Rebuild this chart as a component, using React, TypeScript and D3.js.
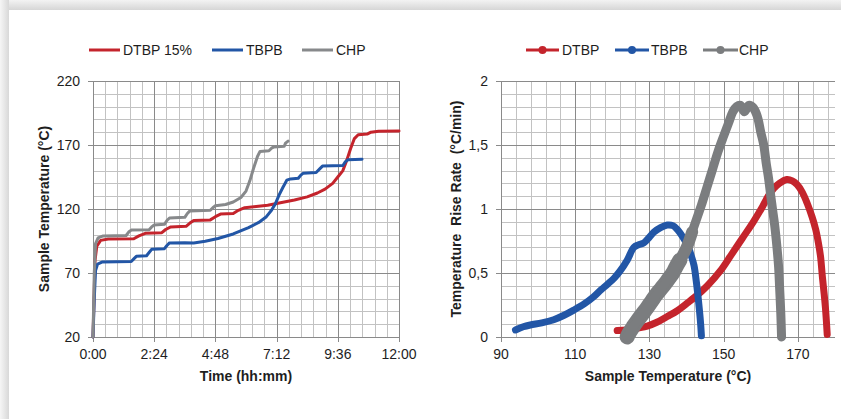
import React from "react";
import * as d3 from "d3";

// ---------- Left chart data: time (hours) vs sample temperature (°C)
const timeTicks = [0, 2.4, 4.8, 7.2, 9.6, 12];
const tempTicks = [20, 70, 120, 170, 220];

const dtbpTemp: [number, number][] = [
  [0, 20], [0.08, 80], [0.15, 91], [0.3, 95.5], [0.6, 96.5], [1.6, 96.8], [1.8, 99], [2.05, 101],
  [2.7, 101.5], [2.85, 104], [3.05, 106], [3.65, 106.5], [3.8, 109], [3.95, 111], [4.6, 111.5],
  [4.8, 114], [5.0, 116], [5.5, 116.5], [5.7, 119], [5.95, 121], [6.4, 122], [6.85, 123],
  [7.4, 125], [7.9, 127], [8.4, 129.5], [8.8, 132.5], [9.1, 135.5], [9.4, 140], [9.6, 145],
  [9.8, 150], [9.95, 158], [10.1, 167], [10.25, 175], [10.4, 178], [10.75, 178.5], [10.9, 180],
  [11.2, 180.8], [12, 181],
];
const tbpbTemp: [number, number][] = [
  [0, 20], [0.05, 50], [0.1, 72], [0.18, 77], [0.35, 78.5], [1.5, 79], [1.6, 81], [1.7, 83],
  [2.1, 83.5], [2.2, 86], [2.3, 88.5], [2.8, 89], [2.9, 91.5], [3.0, 93.5], [3.6, 93.7],
  [3.95, 93.5], [4.4, 94.8], [4.9, 97], [5.5, 100.5], [6.1, 105.5], [6.5, 109.5], [6.8, 114],
  [7.0, 119], [7.15, 124], [7.3, 131], [7.45, 137], [7.6, 142.5], [7.75, 143.5], [8.05, 144],
  [8.15, 146.5], [8.25, 148], [8.75, 148.5], [8.9, 151.5], [9.0, 153.5], [9.8, 154], [9.9, 157],
  [10.0, 158.5], [10.55, 158.8],
];
const chpTemp: [number, number][] = [
  [0, 20], [0.05, 70], [0.1, 93], [0.2, 97.5], [0.4, 99], [1.3, 99.3], [1.4, 102], [1.5, 103.5],
  [2.2, 103.8], [2.3, 106], [2.4, 107.5], [2.8, 108], [2.9, 111], [3.0, 113], [3.6, 113.5],
  [3.7, 116.5], [3.8, 118.5], [4.6, 119], [4.7, 121], [4.8, 122.5], [5.2, 123.5], [5.5, 125.5],
  [5.8, 129], [6.0, 134], [6.15, 142], [6.3, 152], [6.45, 161], [6.55, 165], [6.9, 165.5],
  [7.0, 167.5], [7.1, 168.5], [7.5, 169], [7.55, 171.5], [7.65, 173],
];

// ---------- Right chart data: sample temperature (°C) vs rise rate (°C/min)
const sampleTempTicks = [90, 110, 130, 150, 170];
const rateTicks = [0, 0.5, 1, 1.5, 2];
const rateTickLabels = ["0", "0,5", "1", "1,5", "2"];

const dtbpRate: [number, number][] = [
  [121.3, 0.05], [124, 0.055], [127, 0.07], [129.4, 0.085], [132, 0.115], [134.8, 0.16],
  [137.5, 0.205], [140.2, 0.265], [143, 0.33], [145.6, 0.4], [149.2, 0.52], [152, 0.64],
  [155, 0.77], [158, 0.9], [160.5, 1.02], [162, 1.1], [163.5, 1.16], [165, 1.2], [167, 1.23],
  [168.5, 1.22], [169.8, 1.19], [171.2, 1.13], [172.5, 1.045], [173.8, 0.94], [174.8, 0.84],
  [175.5, 0.74], [176.1, 0.63], [176.6, 0.47], [177.1, 0.33], [177.5, 0.2], [177.9, 0.02],
];
const tbpbRate: [number, number][] = [
  [93.9, 0.055], [96, 0.08], [97.9, 0.094], [101, 0.11], [104.2, 0.135], [107, 0.17],
  [109.6, 0.21], [112.5, 0.26], [115, 0.315], [117, 0.37], [118.6, 0.41], [120.5, 0.46],
  [122.2, 0.52], [124, 0.6], [125.8, 0.7], [127, 0.72], [128.5, 0.735], [130, 0.78],
  [131.2, 0.82], [133, 0.855], [134.8, 0.875], [136.3, 0.87], [137.5, 0.84], [139, 0.78],
  [140.2, 0.72], [141.2, 0.64], [142, 0.56], [142.6, 0.44], [143, 0.34], [143.5, 0.2],
  [143.8, 0.1], [144, 0.01],
];
const chpRate: [number, number][] = [
  [124, 0.0], [124.5, 0.03], [125.6, 0.08], [126.8, 0.13], [128.1, 0.18], [129.4, 0.23],
  [130.6, 0.28], [131.8, 0.33], [133.2, 0.38], [134.3, 0.42], [135.3, 0.46], [136.3, 0.5],
  [137.2, 0.55], [138.2, 0.6], [139.2, 0.65], [140.2, 0.71], [141.5, 0.82], [142.8, 0.93],
  [144, 1.03], [145.5, 1.17], [147, 1.31], [148.5, 1.45], [150, 1.57], [151.3, 1.67],
  [152.5, 1.76], [153.5, 1.8], [154.5, 1.81], [155.6, 1.76], [156.8, 1.81], [158, 1.79],
  [159.1, 1.72], [160, 1.6], [160.8, 1.5], [161.5, 1.35], [162.1, 1.24], [162.7, 1.1],
  [163.2, 0.99], [163.8, 0.86], [164.3, 0.72], [164.8, 0.55], [165.1, 0.37], [165.4, 0.18],
  [165.6, 0.0],
];
// number of leading CHP points in the dense, wide band near the onset
const chpDenseCount = 14;

const RED = "#c4242c";
const BLUE = "#2256a6";
const GRAY_L = "#87898b";
const GRAY_R = "#7b7d7f";
const MAJOR = "#8a8a8a";
const MINOR = "#c2c2c2";
const FONT = "'Liberation Sans', Arial, sans-serif";

function fmtTime(h: number) {
  const hh = Math.floor(h + 1e-6);
  const mm = Math.round((h - hh) * 60);
  return `${hh}:${mm < 10 ? "0" + mm : mm}`;
}

function Grid({ x, y, xMajor, xStep, yMajor, yStep }: any) {
  const [x0, x1] = x.domain();
  const [y0, y1] = y.domain();
  const xs = d3.range(x0, x1 + 1e-9, xStep);
  const ys = d3.range(y0, y1 + 1e-9, yStep);
  const isMajor = (v: number, base: number, m: number) => {
    const r = (v - base) / m;
    return Math.abs(r - Math.round(r)) < 1e-6;
  };
  const [px0, px1] = x.range();
  const [py0, py1] = y.range();
  const minors: any[] = [];
  const majors: any[] = [];
  xs.forEach((v: number, i: number) => {
    const px = Math.round(x(v)) + 0.5;
    const el = <line key={"x" + i} x1={px} x2={px} y1={py1} y2={py0} />;
    (isMajor(v, x0, xMajor) ? majors : minors).push(el);
  });
  ys.forEach((v: number, i: number) => {
    const py = Math.round(y(v)) + 0.5;
    const el = <line key={"y" + i} x1={px0} x2={px1} y1={py} y2={py} />;
    (isMajor(v, y0, yMajor) ? majors : minors).push(el);
  });
  return (
    <g>
      <g stroke={MINOR} strokeWidth={1}>{minors}</g>
      <g stroke={MAJOR} strokeWidth={1}>{majors}</g>
    </g>
  );
}

export default function App() {
  const xL = d3.scaleLinear().domain([0, 12]).range([93, 399]);
  const yL = d3.scaleLinear().domain([20, 220]).range([337, 81]);
  const xR = d3.scaleLinear().domain([90, 180]).range([501, 835]);
  const yR = d3.scaleLinear().domain([0, 2]).range([337, 81]);

  const lineL = d3.line<[number, number]>().x((d) => xL(d[0])).y((d) => yL(d[1]));
  const lineR = d3.line<[number, number]>().x((d) => xR(d[0])).y((d) => yR(d[1]));
  const lineRs = d3
    .line<[number, number]>()
    .x((d) => xR(d[0]))
    .y((d) => yR(d[1]))
    .curve(d3.curveCatmullRom);

  return (
    <svg
      width={841}
      height={419}
      style={{ position: "absolute", left: 0, top: 0, display: "block" }}
      fontFamily={FONT}
    >
      <defs>
        <linearGradient id="shTop" x1="0" y1="0" x2="0" y2="1">
          <stop offset="0" stopColor="#f3f3f3" />
          <stop offset="1" stopColor="#d6d6d6" />
        </linearGradient>
        <linearGradient id="shLeft" x1="0" y1="0" x2="1" y2="0">
          <stop offset="0" stopColor="#f6f6f6" />
          <stop offset="1" stopColor="#d8d8d8" />
        </linearGradient>
      </defs>
      <rect x={0} y={0} width={841} height={419} fill="#ffffff" />
      <rect x={0} y={0} width={841} height={10} fill="url(#shTop)" />
      <rect x={0} y={0} width={9} height={419} fill="url(#shLeft)" />
      <rect x={9} y={10} width={832} height={409} fill="#ffffff" />

      {/* ---------------- Left chart ---------------- */}
      <Grid x={xL} y={yL} xMajor={2.4} xStep={0.48} yMajor={50} yStep={10} />
      <g stroke={MAJOR} strokeWidth={1}>
        {timeTicks.map((t, i) => (
          <line key={i} x1={Math.round(xL(t)) + 0.5} x2={Math.round(xL(t)) + 0.5} y1={337} y2={342} />
        ))}
        {tempTicks.map((t, i) => (
          <line key={i} x1={88} x2={93} y1={Math.round(yL(t)) + 0.5} y2={Math.round(yL(t)) + 0.5} />
        ))}
      </g>
      <g fill="none" strokeWidth={3} strokeLinejoin="round" strokeLinecap="round">
        <path d={lineL(dtbpTemp) || ""} stroke={RED} />
        <path d={lineL(tbpbTemp) || ""} stroke={BLUE} />
        <path d={lineL(chpTemp) || ""} stroke={GRAY_L} />
      </g>
      <g fontSize={14} fill="#1e1e1e">
        {tempTicks.map((t, i) => (
          <text key={i} x={80} y={yL(t)} dy="0.35em" textAnchor="end">{t}</text>
        ))}
        {timeTicks.map((t, i) => (
          <text key={i} x={xL(t)} y={359} textAnchor="middle">{fmtTime(t)}</text>
        ))}
      </g>
      <text x={246} y={381} textAnchor="middle" fontSize={14} fontWeight="bold" fill="#1e1e1e">Time (hh:mm)</text>
      <text
        transform={`translate(49,209) rotate(-90)`}
        textAnchor="middle"
        fontSize={14}
        fontWeight="bold"
        fill="#1e1e1e"
      >
        Sample Temperature (°C)
      </text>
      <g fontSize={14} fill="#1e1e1e">
        <line x1={89} x2={120} y1={50} y2={50} stroke={RED} strokeWidth={3} />
        <text x={123} y={55}>DTBP 15%</text>
        <line x1={212} x2={243} y1={50} y2={50} stroke={BLUE} strokeWidth={3} />
        <text x={246} y={55}>TBPB</text>
        <line x1={302} x2={333} y1={50} y2={50} stroke={GRAY_L} strokeWidth={3} />
        <text x={336} y={55}>CHP</text>
      </g>

      {/* ---------------- Right chart ---------------- */}
      <Grid x={xR} y={yR} xMajor={20} xStep={4} yMajor={0.5} yStep={0.1} />
      <g stroke={MAJOR} strokeWidth={1}>
        {sampleTempTicks.map((t, i) => (
          <line key={i} x1={Math.round(xR(t)) + 0.5} x2={Math.round(xR(t)) + 0.5} y1={337} y2={342} />
        ))}
        {rateTicks.map((t, i) => (
          <line key={i} x1={496} x2={501} y1={Math.round(yR(t)) + 0.5} y2={Math.round(yR(t)) + 0.5} />
        ))}
      </g>
      <g fill="none" strokeLinejoin="round" strokeLinecap="round">
        <path d={lineRs(dtbpRate) || ""} stroke={RED} strokeWidth={7} />
        <path d={lineRs(tbpbRate) || ""} stroke={BLUE} strokeWidth={7} />
        <path d={lineRs(chpRate.slice(0, chpDenseCount)) || ""} stroke={GRAY_R} strokeWidth={15} />
        <path d={lineRs(chpRate.slice(chpDenseCount - 3, chpDenseCount + 3)) || ""} stroke={GRAY_R} strokeWidth={12} />
        <path d={lineRs(chpRate) || ""} stroke={GRAY_R} strokeWidth={9} />
      </g>
      <g fontSize={14} fill="#1e1e1e">
        {rateTicks.map((t, i) => (
          <text key={i} x={488} y={yR(t)} dy="0.35em" textAnchor="end">{rateTickLabels[i]}</text>
        ))}
        {sampleTempTicks.map((t, i) => (
          <text key={i} x={xR(t)} y={359} textAnchor="middle">{t}</text>
        ))}
      </g>
      <text x={668} y={381} textAnchor="middle" fontSize={14} fontWeight="bold" fill="#1e1e1e">
        Sample Temperature (°C)
      </text>
      <text
        transform={`translate(461,209) rotate(-90)`}
        textAnchor="middle"
        fontSize={14}
        fontWeight="bold"
        fill="#1e1e1e"
        style={{ whiteSpace: "pre" }}
      >
        {"Temperature  Rise Rate  (°C/min)"}
      </text>
      <g fontSize={14} fill="#1e1e1e">
        <line x1={526} x2={559} y1={50} y2={50} stroke={RED} strokeWidth={3} />
        <circle cx={542.5} cy={50} r={4} fill={RED} />
        <text x={562} y={55}>DTBP</text>
        <line x1={615} x2={649} y1={50} y2={50} stroke={BLUE} strokeWidth={3} />
        <circle cx={632} cy={50} r={4} fill={BLUE} />
        <text x={651} y={55}>TBPB</text>
        <line x1={703} x2={738} y1={50} y2={50} stroke={GRAY_R} strokeWidth={3} />
        <circle cx={720.5} cy={50} r={4} fill={GRAY_R} />
        <text x={739} y={55}>CHP</text>
      </g>
    </svg>
  );
}
